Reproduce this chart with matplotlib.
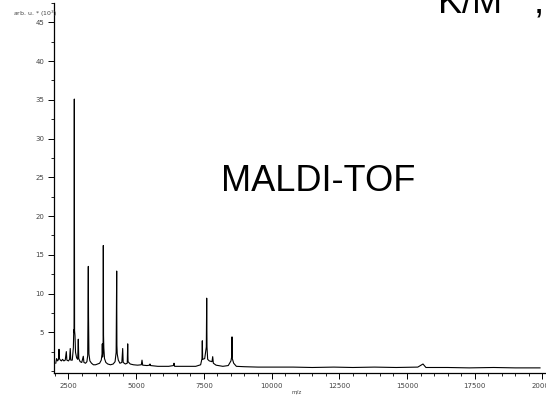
import matplotlib
matplotlib.use('Agg')
import matplotlib.pyplot as plt
from matplotlib.ticker import MultipleLocator, FixedLocator

# spectrum: m/z and intensity (arb. u. * 10^3)
mz = [2030, 2060, 2100, 2130, 2150, 2165, 2200, 2240, 2280, 2330, 2380, 2420, 2440,
      2500, 2540, 2565, 2585, 2640, 2680, 2695, 2705, 2715, 2725, 2740, 2760, 2800,
      2840, 2862, 2880, 2930, 2990, 3047, 3070, 3130, 3180, 3210, 3222, 3232, 3240,
      3255, 3290, 3350, 3420, 3500, 3580, 3650, 3710, 3740, 3749, 3760, 3778, 3786,
      3794, 3805, 3830, 3880, 3950, 4050, 4150, 4220, 4260, 4272, 4280, 4288, 4300,
      4340, 4400, 4470, 4502, 4520, 4600, 4670, 4687, 4700, 4780, 4900, 5050, 5190,
      5215, 5240, 5400, 5500, 5510, 5530, 5800, 6200, 6380, 6397, 6420, 6800, 7200,
      7380, 7430, 7442, 7455, 7530, 7590, 7604, 7615, 7640, 7700, 7800, 7826, 7850,
      7950, 8200, 8400, 8500, 8530, 8539, 8550, 8600, 8700, 9000, 9500, 10000, 10800,
      11500, 12300, 13000, 13800, 14600, 15400, 15592, 15700, 16500, 17300, 18200,
      19000, 19913]
intensity = [1.0, 1.6, 1.3, 1.5, 2.8, 1.6, 1.4, 1.3, 1.5, 1.3, 1.4, 2.5, 1.4,
             1.3, 1.5, 2.9, 1.4, 1.4, 3.0, 5.3, 5.0, 35.1, 5.2, 4.6, 2.4, 1.7,
             1.5, 4.1, 1.6, 1.2, 1.1, 1.9, 1.1, 1.0, 1.2, 2.0, 7.4, 13.5, 7.0,
             2.2, 1.3, 1.0, 0.8, 0.8, 0.9, 1.0, 1.4, 2.2, 3.5, 1.8, 2.5, 16.2,
             4.6, 3.0, 1.6, 1.1, 0.9, 0.8, 0.9, 1.2, 2.4, 7.9, 12.9, 3.3, 2.2,
             1.4, 1.0, 1.1, 2.9, 1.1, 0.9, 1.0, 3.5, 1.2, 0.9, 0.8, 0.75, 0.8,
             1.4, 0.75, 0.7, 0.75, 0.9, 0.7, 0.6, 0.6, 0.7, 1.0, 0.6, 0.6, 0.6,
             0.8, 1.6, 3.9, 1.5, 1.6, 3.1, 9.4, 3.1, 1.5, 1.3, 1.2, 1.85, 1.0,
             0.75, 0.6, 0.7, 1.3, 1.9, 4.4, 1.6, 1.0, 0.6, 0.55, 0.5, 0.5, 0.5,
             0.45, 0.5, 0.45, 0.5, 0.45, 0.5, 0.9, 0.45, 0.45, 0.4, 0.45,
             0.4, 0.4]

xticks = [2500, 5000, 7500, 10000, 12500, 15000, 17500, 20000]
yticks = [5, 10, 15, 20, 25, 30, 35, 40, 45]

fig = plt.figure(figsize=(5.46, 3.97), dpi=100)
W, H = 546, 397
ax = fig.add_axes([54 / W, (397 - 373.3) / H, 499 / W, 370.3 / H])

ax.plot(mz, intensity, '-', color='black', lw=0.8)

ax.set_xlim(1965, 20393)
ax.set_ylim(-0.3, 47.5)

for s in ['top', 'right']:
    ax.spines[s].set_visible(False)
for s in ['left', 'bottom']:
    ax.spines[s].set_linewidth(0.9)

ax.xaxis.set_major_locator(FixedLocator(xticks))
ax.xaxis.set_minor_locator(MultipleLocator(500))
ax.yaxis.set_major_locator(FixedLocator(yticks))
ax.yaxis.set_minor_locator(MultipleLocator(2.5))
ax.set_xticklabels([str(t) for t in xticks])
ax.set_yticklabels([str(t) for t in yticks])
ax.tick_params(which='major', length=4, width=0.7, labelsize=5, labelcolor='#444444', pad=3)
ax.tick_params(which='minor', length=2, width=0.6)

fig.text(297 / W, 1 - 392 / H, 'm/z', fontsize=4, color='#444444', ha='center', va='center')
fig.text(13 / W, 1 - 14 / H, 'arb. u. * (10$^3$)', fontsize=4.5, color='#444444',
         ha='left', va='center')

fig.text(318 / W, 1 - 182 / H, 'MALDI-TOF', fontsize=26, family='Liberation Sans',
         ha='center', va='center')
fig.text(437 / W, 1 - 13 / H, 'K/M$^+$,', fontsize=26, family='Liberation Sans',
         ha='left', va='baseline')

fig.savefig('out.png', dpi=100)
